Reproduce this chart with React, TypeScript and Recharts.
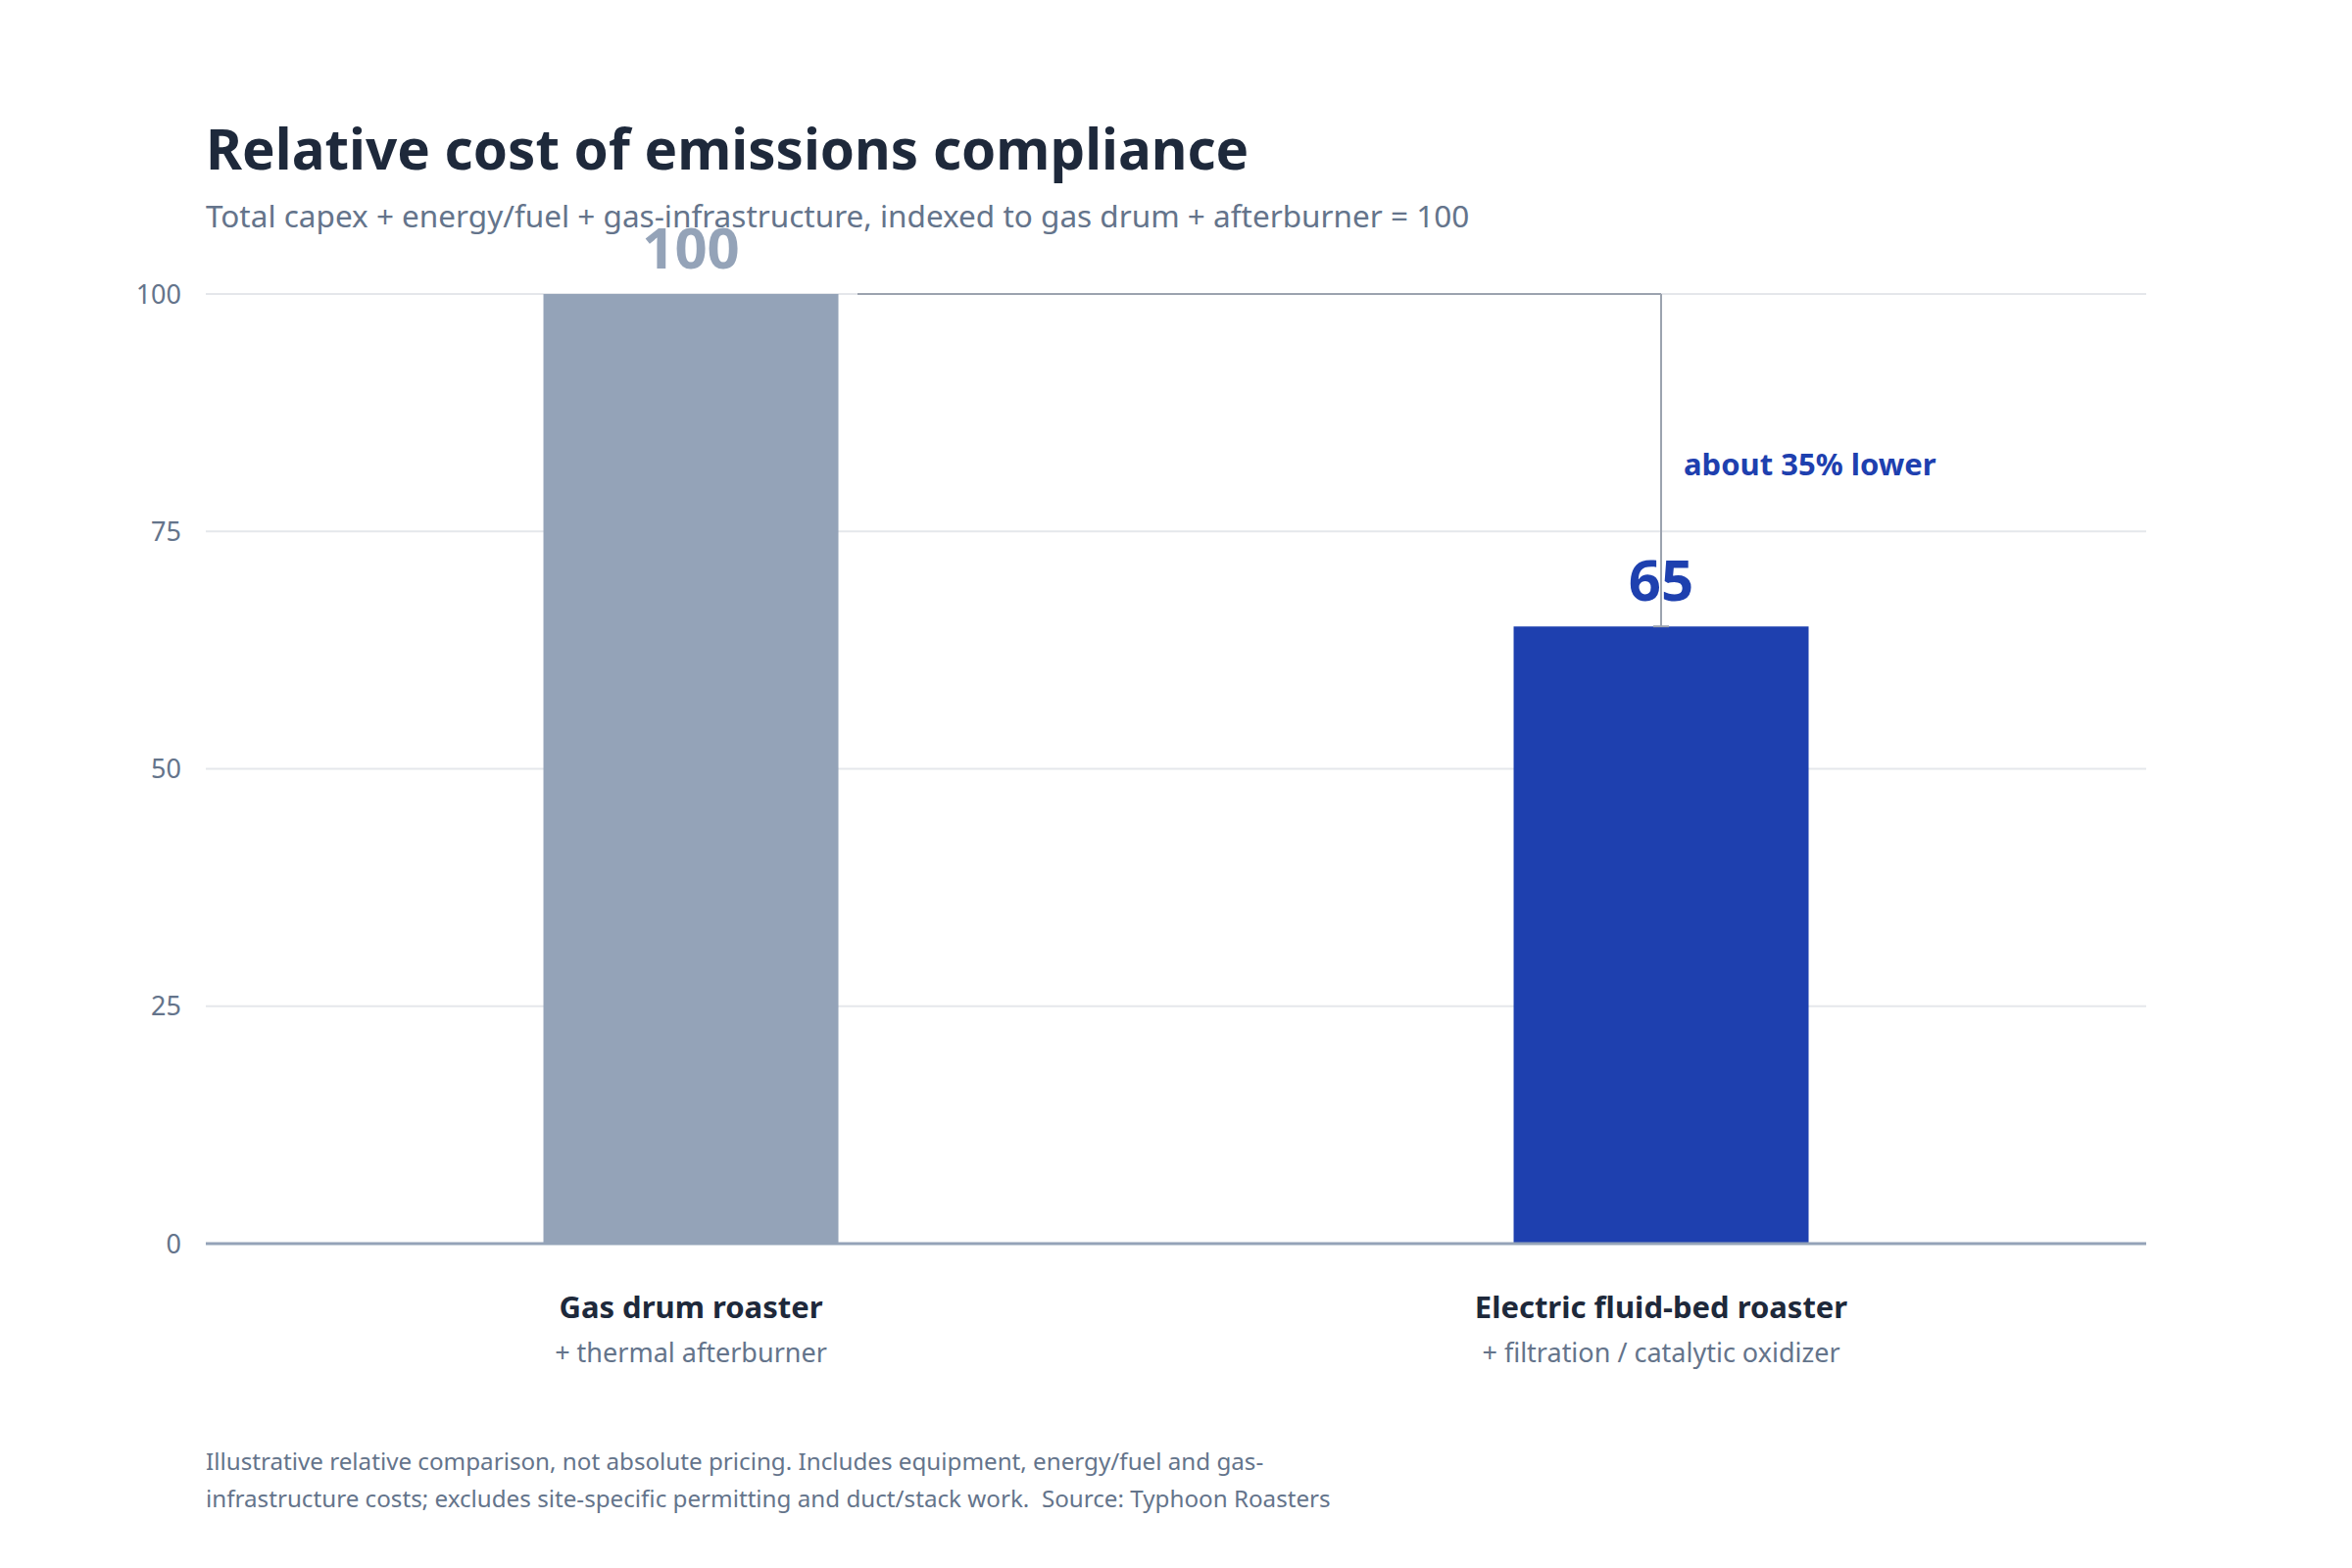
import { BarChart, Bar, XAxis, YAxis, CartesianGrid, Cell, LabelList, ReferenceLine, ReferenceDot } from 'recharts';

const categories = ['Gas drum roaster', 'Electric fluid-bed roaster'];
const subLabels = ['+ thermal afterburner', '+ filtration / catalytic oxidizer'];
const costIndex = [100, 65];
const barColors = ['#94a3b8', '#1e40af'];
const yTicks = [0, 25, 50, 75, 100];
const diffLabel = 'about 35% lower';

const FONT = '"Segoe UI", "Noto Sans", "Open Sans", sans-serif';
const DARK = '#1e293b';
const MUTED = '#64748b';
const CONNECTOR = '#9ca3af';

const data = categories.map((name, i) => ({ name, sub: subLabels[i], value: costIndex[i] }));

// two-line category tick: bold name + muted sub label
const CategoryTick = (props: any) => {
  const { x, y, payload, index } = props;
  return (
    <g>
      <text x={x} y={y + 76} textAnchor="middle" fill={DARK} fontSize={31} fontWeight={700}>
        {payload.value}
      </text>
      <text x={x} y={y + 121} textAnchor="middle" fill={MUTED} fontSize={27}>
        {subLabels[index] ?? ''}
      </text>
    </g>
  );
};

const ValueLabel = (props: any) => {
  const { x, y, width, value } = props;
  const idx = costIndex.indexOf(value);
  return (
    <text x={x + width / 2} y={y - 26} textAnchor="middle" fill={barColors[idx]} fontSize={58} fontWeight={700}>
      {value}
    </text>
  );
};

// bracket from top of first bar across to second bar, then down to its top
const Bracket = (props: any) => {
  const { x1, y1, x2, y2 } = props;
  if ([x1, y1, x2, y2].some((v) => typeof v !== 'number' || Number.isNaN(v))) return null;
  return (
    <g stroke={CONNECTOR} strokeWidth={2} fill="none">
      <line x1={x1 + 170} y1={y1} x2={x2} y2={y1} />
      <line x1={x2} y1={y1} x2={x2} y2={y2} />
      <line x1={x2 - 8} y1={y2} x2={x2 + 8} y2={y2} />
    </g>
  );
};

export default function App() {
  return (
    <div style={{ position: 'relative', width: 2400, height: 1600, background: '#fff', fontFamily: FONT }}>
      <style>{'body{margin:0}'}</style>
      <svg width={2400} height={1600} style={{ position: 'absolute', left: 0, top: 0 }}>
        <text x={210} y={173} fill={DARK} fontSize={56.5} fontWeight={700}>
          Relative cost of emissions compliance
        </text>
        <text x={210} y={232} fill={MUTED} fontSize={31.5}>
          Total capex + energy/fuel + gas-infrastructure, indexed to gas drum + afterburner = 100
        </text>
        <text x={210} y={1500} fill={MUTED} fontSize={24.2}>
          Illustrative relative comparison, not absolute pricing. Includes equipment, energy/fuel and gas-
        </text>
        <text x={210} y={1538} fill={MUTED} fontSize={24.2} style={{ whiteSpace: 'pre' }}>
          {'infrastructure costs; excludes site-specific permitting and duct/stack work.  Source: Typhoon Roasters'}
        </text>
      </svg>
      <div style={{ position: 'absolute', left: 0, top: 0 }}>
        <BarChart
          width={2400}
          height={1600}
          data={data}
          margin={{ top: 300, right: 210, bottom: 131, left: 0 }}
          barCategoryGap="34.8%"
        >
          <CartesianGrid vertical={false} stroke="#e5e7eb" strokeWidth={2} />
          <XAxis
            dataKey="name"
            interval={0}
            height={200}
            tickLine={false}
            tickSize={0}
            tickMargin={0}
            axisLine={{ stroke: '#94a3b8', strokeWidth: 3 }}
            tick={<CategoryTick />}
          />
          <YAxis
            domain={[0, 100]}
            ticks={yTicks}
            width={210}
            axisLine={false}
            tickLine={false}
            tickSize={0}
            tickMargin={25}
            tick={{ fill: MUTED, fontSize: 27 }}
          />
          <Bar dataKey="value" isAnimationActive={false}>
            {data.map((d, i) => (
              <Cell key={d.name} fill={barColors[i]} />
            ))}
            <LabelList dataKey="value" content={<ValueLabel />} />
          </Bar>
          <ReferenceLine
            segment={[{ x: categories[0], y: costIndex[0] }, { x: categories[1], y: costIndex[1] }]}
            ifOverflow="visible"
            shape={(p: any) => <Bracket {...p} />}
          />
          <ReferenceDot
            x={categories[1]}
            y={82}
            r={0}
            fill="none"
            stroke="none"
            ifOverflow="visible"
            label={{ value: diffLabel, position: 'right', offset: 23, fill: '#1e40af', fontSize: 31, fontWeight: 700 }}
          />
        </BarChart>
      </div>
    </div>
  );
}
